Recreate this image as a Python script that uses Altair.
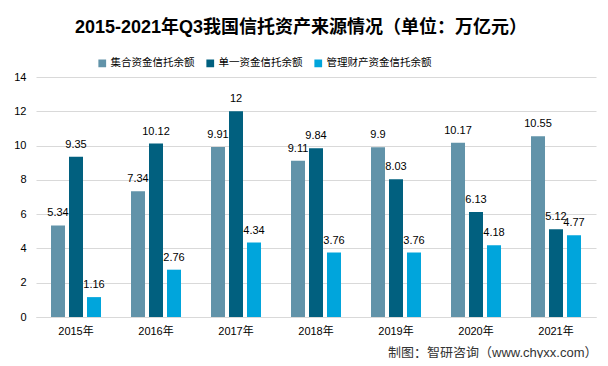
import altair as alt
import pandas as pd

years = ["2015年", "2016年", "2017年", "2018年", "2019年", "2020年", "2021年"]
series = ["集合资金信托余额", "单一资金信托余额", "管理财产资金信托余额"]
jihe = [5.34, 7.34, 9.91, 9.11, 9.9, 10.17, 10.55]
danyi = [9.35, 10.12, 12, 9.84, 8.03, 6.13, 5.12]
guanli = [1.16, 2.76, 4.34, 3.76, 3.76, 4.18, 4.77]
colors = ["#6193A9", "#01607F", "#00A5DC"]
y_ticks = [0, 2, 4, 6, 8, 10, 12, 14]

rows = []
for s, vals in zip(series, [jihe, danyi, guanli]):
    for y, v in zip(years, vals):
        rows.append({"year": y, "series": s, "value": v, "label": f"{v:g}"})
df = pd.DataFrame(rows)

FONT = "Liberation Sans, Noto Sans CJK SC, sans-serif"

x = alt.X("year:N", sort=years,
          scale=alt.Scale(paddingInner=0.3, paddingOuter=0.15),
          axis=alt.Axis(title="制图：智研咨询（www.chyxx.com）", labelAngle=0,
                        ticks=False, domainColor="#D9D9D9", labelPadding=8,
                        labelFontSize=11, labelColor="#000000", labelFont=FONT,
                        titleX=561, titleY=35, titleAlign="right",
                        titleBaseline="middle", titleFontSize=13,
                        titleFontWeight="normal", titleColor="#333333",
                        titleFont=FONT))
xo = alt.XOffset("series:N", sort=series,
                 scale=alt.Scale(paddingInner=0.222, paddingOuter=0.167))
y = alt.Y("value:Q", scale=alt.Scale(domain=[0, 14]),
          axis=alt.Axis(title=None, values=y_ticks, domain=False, ticks=False,
                        gridColor="#D9D9D9", labelPadding=10, labelFontSize=11,
                        labelColor="#000000", labelFont=FONT, labelOverlap=False))
color = alt.Color("series:N", sort=series,
                  scale=alt.Scale(domain=series, range=colors),
                  legend=alt.Legend(title=None, orient="none", direction="horizontal",
                                    legendX=61, legendY=-19, symbolType="square",
                                    symbolSize=60, symbolStrokeWidth=0,
                                    labelFontSize=10.5, labelFont=FONT,
                                    labelColor="#000000", labelOffset=3,
                                    columnPadding=10))

base = alt.Chart(df)
bars = base.mark_bar().encode(x=x, xOffset=xo, y=y, color=color)
labels = base.mark_text(baseline="alphabetic", dy=-9, fontSize=11, font=FONT,
                        color="#000000").encode(
    x=x, xOffset=xo, y=y, text="label:N")

chart = alt.layer(bars, labels).properties(
    width=560, height=240,
    autosize=alt.AutoSizeParams(type="none"),
    padding={"left": 28, "top": 69, "right": 4, "bottom": 41},
    title=alt.TitleParams("2015-2021年Q3我国信托资产来源情况（单位：万亿元）",
                          fontSize=18, fontWeight="bold", font=FONT,
                          color="#000000", anchor="middle", dx=-15, offset=21),
).configure_view(stroke=None)

chart.save("out.html", embed_options={"renderer": "svg", "actions": False})
